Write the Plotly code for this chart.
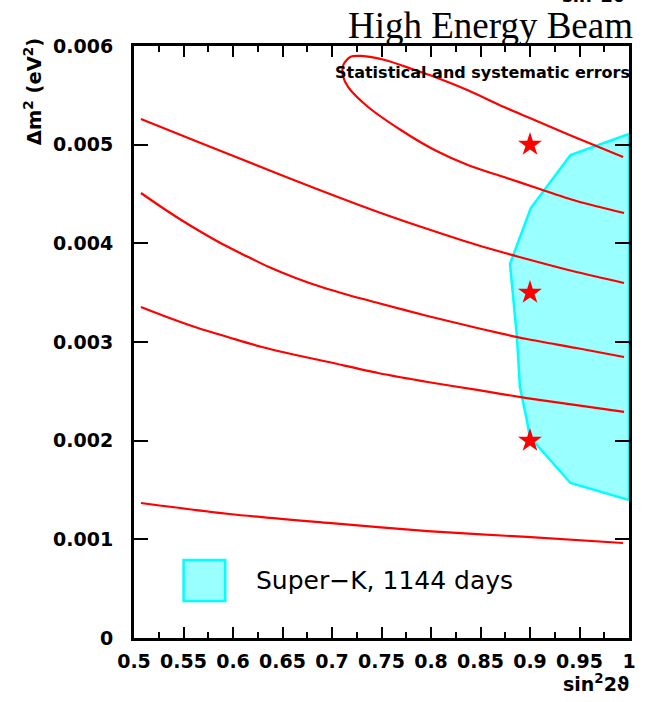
import plotly.graph_objects as go

# ---- data ----
# closed contour: upper branch (right -> left), nose, lower branch (left -> right)
closed_x = [0.9940, 0.9399, 0.8998, 0.8737, 0.8367, 0.8066, 0.7836, 0.7535, 0.7295, 0.7184, 0.7114, 0.7114,
            0.7164, 0.7365, 0.7695, 0.8036, 0.8397, 0.8737, 0.9068, 0.9469, 0.9950]
closed_y = [0.004875, 0.005098, 0.005270, 0.005382, 0.005554, 0.005676, 0.005757, 0.005858, 0.005899, 0.005889, 0.005807, 0.005686,
            0.005584, 0.005382, 0.005149, 0.004946, 0.004784, 0.004672, 0.004561, 0.004429, 0.004307]

b_x = [0.5070, 0.5661, 0.6232, 0.6834, 0.7465, 0.7966, 0.8467, 0.8968, 0.9469, 0.9950]
b_y = [0.005260, 0.005022, 0.004794, 0.004556, 0.004318, 0.004145, 0.003983, 0.003841, 0.003709, 0.003598]

c_x = [0.5070, 0.5291, 0.5461, 0.5661, 0.5892, 0.6132, 0.6363, 0.6633, 0.6894, 0.7164, 0.7465, 0.7966, 0.8467, 0.8968, 0.9469, 0.9950]
c_y = [0.004510, 0.004358, 0.004247, 0.004125, 0.003993, 0.003872, 0.003760, 0.003649, 0.003557, 0.003476, 0.003395, 0.003264, 0.003142, 0.003030, 0.002939, 0.002848]

d_x = [0.5070, 0.5291, 0.5631, 0.5962, 0.6293, 0.6633, 0.6964, 0.7465, 0.7966, 0.8467, 0.8968, 0.9469, 0.9950]
d_y = [0.003355, 0.003269, 0.003147, 0.003046, 0.002949, 0.002868, 0.002797, 0.002686, 0.002595, 0.002514, 0.002432, 0.002361, 0.002291]

e_x = [0.5070, 0.5962, 0.6964, 0.7966, 0.8968, 0.9940]
e_y = [0.001368, 0.001257, 0.001166, 0.001084, 0.001024, 0.000963]

sk_x = [1.0, 0.9409, 0.9008, 0.8798, 0.8868, 0.8898, 0.8968, 0.8998, 0.9409, 1.0, 1.0]
sk_y = [0.005108, 0.004895, 0.004358, 0.003791, 0.003051, 0.002544, 0.002209, 0.002037, 0.001571, 0.001399, 0.005108]

star_x = [0.9, 0.9, 0.9]
star_y = [0.005, 0.0035, 0.002]

x_ticks = [0.5, 0.55, 0.6, 0.65, 0.7, 0.75, 0.8, 0.85, 0.9, 0.95, 1.0]
x_labels = ["0.5", "0.55", "0.6", "0.65", "0.7", "0.75", "0.8", "0.85", "0.9", "0.95", "1"]
y_ticks = [0, 0.001, 0.002, 0.003, 0.004, 0.005, 0.006]
y_labels = ["0", "0.001", "0.002", "0.003", "0.004", "0.005", "0.006"]

RED = "#ff0000"
fig = go.Figure()

fig.add_trace(go.Scatter(x=sk_x, y=sk_y, mode="lines", fill="toself",
                         fillcolor="#99ffff", line=dict(color="#00ffff", width=2.5),
                         hoverinfo="skip"))

for xs, ys in [(closed_x, closed_y), (b_x, b_y), (c_x, c_y), (d_x, d_y), (e_x, e_y)]:
    fig.add_trace(go.Scatter(x=xs, y=ys, mode="lines",
                             line=dict(color=RED, width=2.2, shape="spline", smoothing=0.8)))

fig.add_trace(go.Scatter(x=star_x, y=star_y, mode="markers",
                         marker=dict(symbol="star", size=18, color=RED, line=dict(width=0))))

tickfont = dict(family="DejaVu Sans", size=19, color="black", weight="bold")

fig.update_layout(
    width=648, height=702,
    margin=dict(l=134, r=15, t=46, b=64),
    paper_bgcolor="white", plot_bgcolor="white",
    showlegend=False,
    xaxis=dict(range=[0.5, 1.0], tickvals=x_ticks, ticktext=x_labels,
               ticks="inside", ticklen=11, tickwidth=2, tickcolor="black",
               minor=dict(dtick=0.025, tick0=0.5, ticks="inside", ticklen=6, tickwidth=2, tickcolor="black"),
               showline=True, linewidth=3, linecolor="black", mirror="ticks",
               showgrid=False, zeroline=False, tickfont=tickfont, ticklabelstandoff=4),
    yaxis=dict(range=[0, 0.006], tickvals=y_ticks, ticktext=y_labels,
               ticks="inside", ticklen=14, tickwidth=2, tickcolor="black",
               showline=True, linewidth=3, linecolor="black", mirror="ticks",
               showgrid=False, zeroline=False, tickfont=tickfont, ticklabelstandoff=14),
)

# legend box drawn as a shape + text
fig.add_shape(type="rect", xref="paper", yref="paper", x0=0.1002, x1=0.1844, y0=0.0625, y1=0.1318,
              fillcolor="#99ffff", line=dict(color="#00ffff", width=2.5))
fig.add_annotation(xref="paper", yref="paper", x=0.2425, y=0.0963, xanchor="left", yanchor="middle",
                   text="Super\u2212K, 1144 days", showarrow=False,
                   font=dict(family="DejaVu Sans", size=25, color="black"))

fig.add_annotation(xref="paper", yref="paper", x=1.012, y=1.034, xanchor="right", yanchor="middle",
                   text="High Energy Beam", showarrow=False,
                   font=dict(family="Liberation Serif", size=37, color="black"))
fig.add_annotation(xref="paper", yref="paper", x=0.4028, y=0.956, xanchor="left", yanchor="middle",
                   text="Statistical and systematic errors", showarrow=False,
                   font=dict(family="DejaVu Sans", size=16, color="black", weight="bold"))
fig.add_annotation(xref="paper", yref="paper", x=0.934, y=-0.076, xanchor="center", yanchor="middle",
                   text="sin<sup>2</sup>2\u03d1", showarrow=False,
                   font=dict(family="DejaVu Sans", size=19, color="black", weight="bold"))
fig.add_annotation(xref="paper", yref="paper", x=0.928, y=1.088, xanchor="center", yanchor="middle",
                   text="sin<sup>2</sup>2\u03d1", showarrow=False,
                   font=dict(family="DejaVu Sans", size=18, color="black", weight="bold"))
fig.add_annotation(xref="paper", yref="paper", x=-0.204, y=0.922, xanchor="center", yanchor="middle",
                   text="\u0394m<sup>2</sup> (eV<sup>2</sup>)", showarrow=False, textangle=-90,
                   font=dict(family="DejaVu Sans", size=19.5, color="black", weight="bold"))

fig.write_html("out.html")
